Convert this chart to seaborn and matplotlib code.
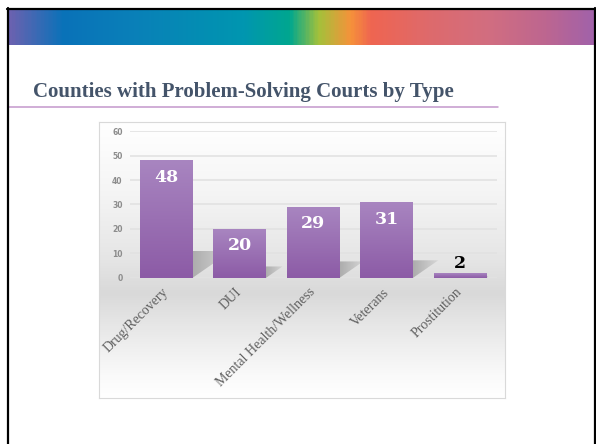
import numpy as np
import seaborn as sns
import matplotlib.pyplot as plt
from matplotlib.colors import LinearSegmentedColormap
from matplotlib.patches import Polygon
from matplotlib.lines import Line2D

# ---- data ----
court_types = ["Drug/Recovery", "DUI", "Mental Health/Wellness", "Veterans", "Prostitution"]
counties = [48, 20, 29, 31, 2]
y_ticks = [0, 10, 20, 30, 40, 50, 60]
title_text = "Counties with Problem-Solving Courts by Type"

sns.set_style("white")
plt.rcParams["font.family"] = ["DejaVu Sans"]

W, H = 596, 444
fig = plt.figure(figsize=(W / 100, H / 100), dpi=100)


def px_axes(x0, y0, x1, y1):
    # pixel box measured from the top-left corner of the slide
    return fig.add_axes([x0 / W, 1 - y1 / H, (x1 - x0) / W, (y1 - y0) / H])


# ---- rainbow band at the top of the slide ----
band_cmap = LinearSegmentedColormap.from_list("band", [
    (0.00, "#6a62b0"), (0.09, "#0a72b9"), (0.22, "#0981b8"), (0.40, "#0096b0"),
    (0.48, "#00a78f"), (0.53, "#a4c13b"), (0.585, "#f6923a"), (0.62, "#ef6551"),
    (0.72, "#de6a6c"), (0.82, "#d26e80"), (0.92, "#bd6690"), (1.00, "#a262a9")])
band = px_axes(9, 10, 594, 45)
band.imshow(np.linspace(0, 1, 400)[None, :], cmap=band_cmap, aspect="auto")
band.axis("off")

# ---- chart area background (white -> grey floor -> white) ----
bg_cmap = LinearSegmentedColormap.from_list("bg", [
    (0.00, "#ffffff"), (0.25, "#f5f5f5"), (0.50, "#e5e5e5"), (0.62, "#d9d9d9"),
    (0.78, "#ebebeb"), (0.92, "#fafafa"), (1.00, "#ffffff")])
bg = px_axes(99, 122, 505, 398)
bg.imshow(np.linspace(0, 1, 300)[:, None], cmap=bg_cmap, aspect="auto")
bg.set_xticks([])
bg.set_yticks([])
for s in bg.spines.values():
    s.set_color("#d9d9d9")
    s.set_linewidth(0.8)

# ---- bar chart ----
ax = px_axes(129.6, 131.3, 497, 277.7)
ax.set_facecolor("none")
sns.barplot(x=court_types, y=counties, color="#9a6cb3", width=0.72, ax=ax,
            linewidth=0, zorder=3)

bar_cmap = LinearSegmentedColormap.from_list("bar", ["#8c5ba6", "#a885c0"])
shadow_cmap = LinearSegmentedColormap.from_list("shadow", ["#adadad", "#dcdcdc"])
for p, v in zip(ax.patches, counties):
    x0, w, h = p.get_x(), p.get_width(), p.get_height()
    p.set_edgecolor("none")
    # soft floor shadow cast to the back-right
    dx, dy = 0.011 * h, 0.23 * h
    sh = Polygon([(x0, 0), (x0 + w, 0), (x0 + w + dx, dy), (x0 + dx, dy)],
                 closed=True, facecolor="none", edgecolor="none")
    ax.add_patch(sh)
    im = ax.imshow(np.linspace(0, 1, 50)[None, :], cmap=shadow_cmap, aspect="auto",
                   extent=[x0 + w, x0 + w + dx + 0.05, 0, dy], zorder=2)
    im.set_clip_path(sh)
    # vertical gradient fill of the bar
    ax.imshow(np.linspace(0, 1, 100)[:, None], cmap=bar_cmap, aspect="auto",
              origin="lower", extent=[x0, x0 + w, 0, h], zorder=4)
    if v >= 5:
        ax.annotate(str(v), (x0 + w / 2, h), xytext=(0, -17), textcoords="offset pixels",
                    ha="center", va="center", color="white", fontsize=12.5,
                    fontweight="bold", family="DejaVu Serif", zorder=6)
    else:
        ax.annotate(str(v), (x0 + w / 2, h), xytext=(0, 9), textcoords="offset pixels",
                    ha="center", va="center", color="black", fontsize=12.5,
                    fontweight="bold", family="DejaVu Serif", zorder=6)

ax.set_xlim(-0.5, len(court_types) - 0.5)
ax.set_ylim(0, 60)
ax.set_yticks(y_ticks)
ax.yaxis.grid(True, color="#e2e2e2", linewidth=1.2)
ax.set_axisbelow(True)
for s in ax.spines.values():
    s.set_visible(False)
ax.tick_params(axis="y", length=0, pad=5, labelsize=5.5, labelcolor="#8c8c8c")
for t in ax.get_yticklabels():
    t.set_fontweight("bold")
ax.tick_params(axis="x", length=0, pad=9)
ax.set_xticks(range(len(court_types)))
ax.set_xticklabels(court_types, rotation=45, ha="right", va="center",
                   rotation_mode="anchor", family="Liberation Serif",
                   fontsize=10, color="#606060")
ax.set_xlabel("")
ax.set_ylabel("")

# ---- slide title and decorations ----
fig.text(33 / W, 1 - 97 / H, title_text, fontsize=15.0, fontweight="bold",
         family="Liberation Serif", color="#44546a", va="baseline", ha="left")
fig.add_artist(Line2D([8 / W, 498 / W], [1 - 107.3 / H] * 2, color="#c497cc", lw=1.1))
fig.add_artist(Line2D([8 / W, 8 / W], [0, 1 - 8 / H], color="black", lw=1.6))
fig.add_artist(Line2D([594.8 / W, 594.8 / W], [0, 1 - 8 / H], color="black", lw=1.6))
fig.add_artist(Line2D([7 / W, 1], [1 - 9 / H] * 2, color="black", lw=1.6))

fig.savefig("out.png", dpi=100)
